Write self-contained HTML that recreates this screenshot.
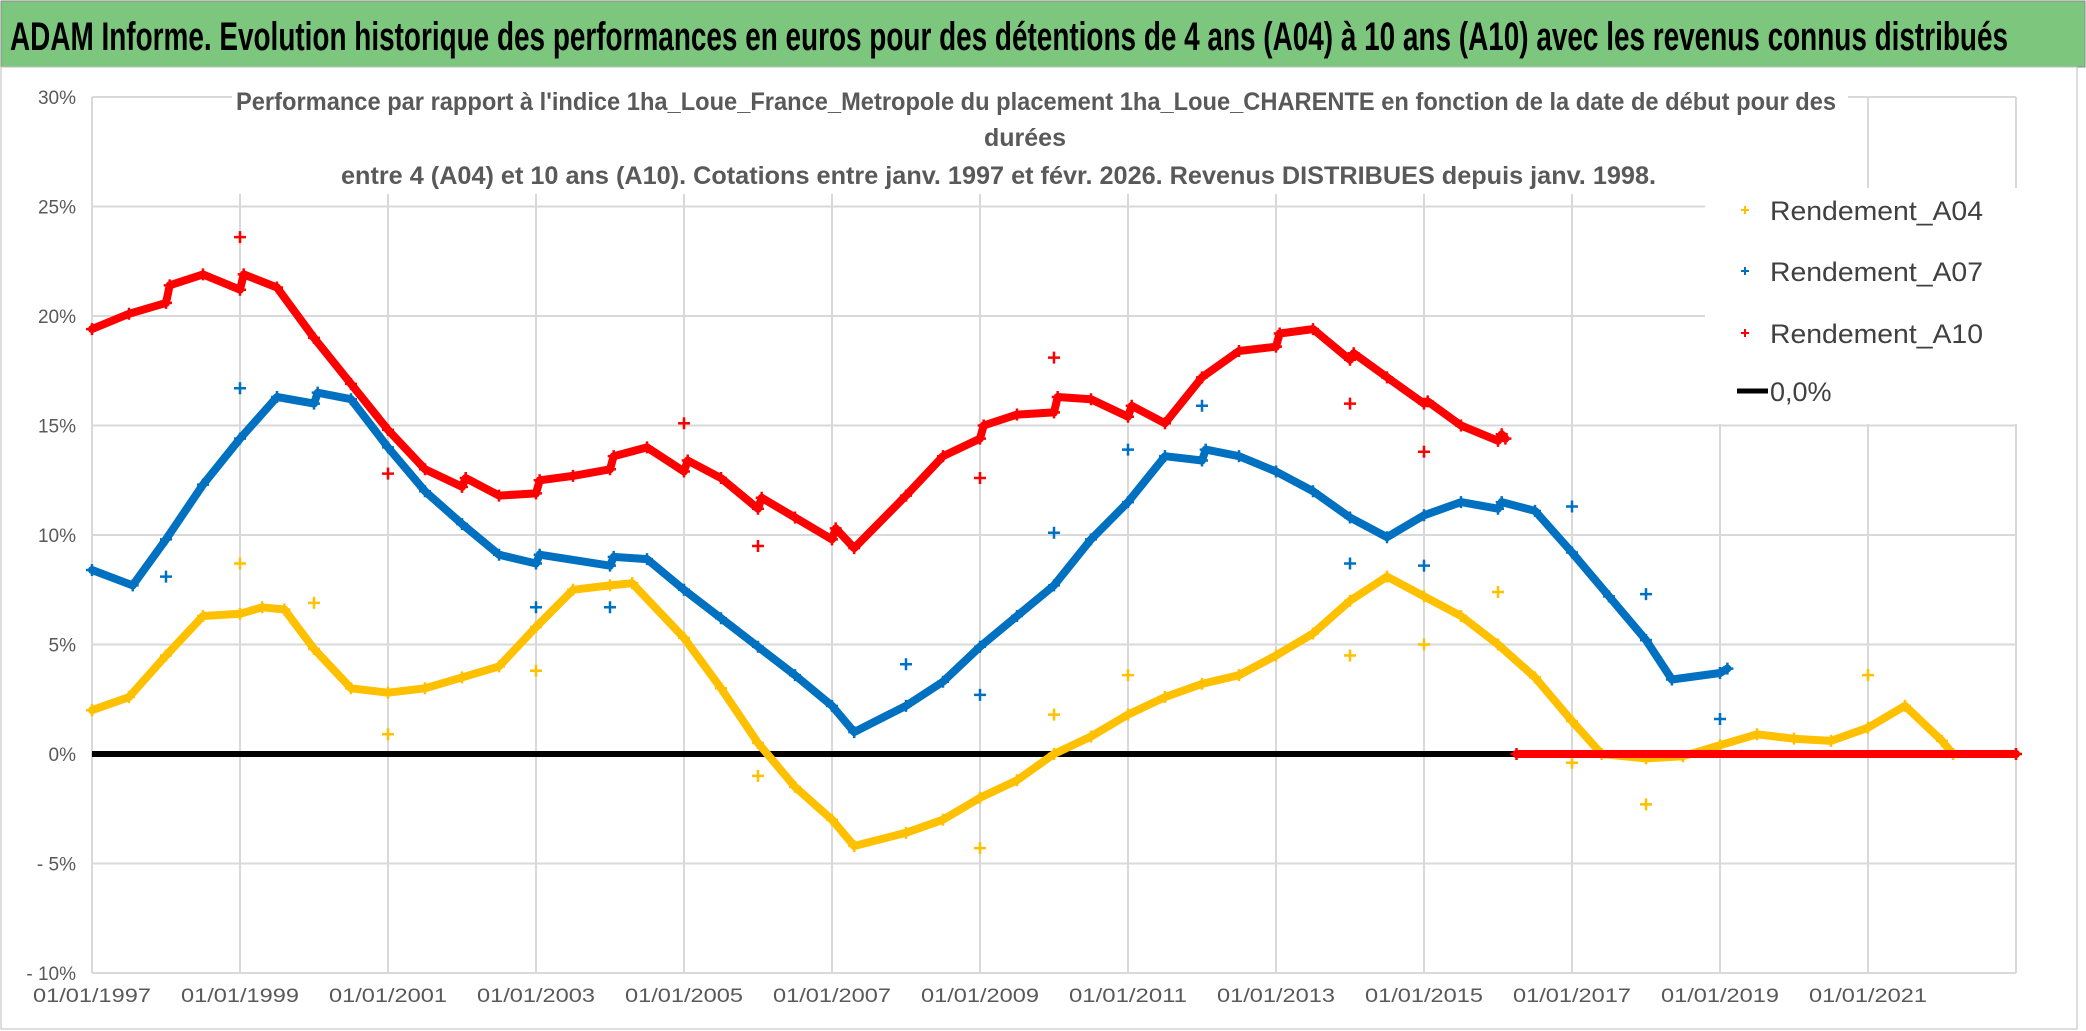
<!DOCTYPE html>
<html><head><meta charset="utf-8">
<style>
html,body{margin:0;padding:0;background:#fff;}
svg{display:block;font-family:"Liberation Sans",sans-serif;}
</style></head>
<body>
<svg id="chart" width="2086" height="1031" viewBox="0 0 2086 1031">
<rect x="0" y="0" width="2086" height="1031" fill="#fff"/>
<rect x="1" y="1" width="2084" height="66" fill="#7dc67e" stroke="#8a8a8a" stroke-width="1"/>
<text x="10" y="50" font-size="40" font-weight="bold" fill="#000" textLength="1998" lengthAdjust="spacingAndGlyphs">ADAM Informe. Evolution historique des performances en euros pour des détentions de 4 ans (A04) à 10 ans (A10) avec les revenus connus distribués</text>
<rect x="1" y="67" width="2076" height="962" fill="none" stroke="#bdbdbd" stroke-width="1"/>
<g id="grid"></g>
<g id="axes"></g>
<rect x="232" y="84" width="1616" height="110" fill="#fff"/>
<g fill="#595959" font-size="25" font-weight="bold">
<text x="236" y="110" textLength="1600" lengthAdjust="spacingAndGlyphs">Performance par rapport à l'indice 1ha_Loue_France_Metropole  du placement 1ha_Loue_CHARENTE en fonction de la date de début pour des</text>
<text x="1025" y="146" text-anchor="middle">durées</text>
<text x="341" y="184" textLength="1315" lengthAdjust="spacingAndGlyphs">entre 4 (A04) et 10 ans (A10). Cotations entre janv. 1997 et févr. 2026. Revenus DISTRIBUES depuis janv. 1998.</text>
</g>
<rect x="1705" y="188" width="312" height="236" fill="#fff"/>
<g id="series"></g>
<g id="legend"></g>
</svg>
<script>
// ---- data ----
const yTicks = [30,25,20,15,10,5,0,-5,-10];
const yTickLabels = ["30%","25%","20%","15%","10%","5%","0%","- 5%","- 10%"];
const xTickYears = [1997,1999,2001,2003,2005,2007,2009,2011,2013,2015,2017,2019,2021];
const xTickLabels = ["01/01/1997","01/01/1999","01/01/2001","01/01/2003","01/01/2005","01/01/2007","01/01/2009","01/01/2011","01/01/2013","01/01/2015","01/01/2017","01/01/2019","01/01/2021"];
const gridYears = [1997,1999,2001,2003,2005,2007,2009,2011,2013,2015,2017,2019,2021,2023];

const a04Dates = [1997,1997.5,1998,1998.5,1999,1999.3,1999.6,2000,2000.5,2001,2001.5,2002,2002.5,2003,2003.5,2004,2004.3,2005,2005.5,2006,2006.5,2007,2007.3,2008,2008.5,2009,2009.5,2010,2010.5,2011,2011.5,2012,2012.5,2013,2013.5,2014,2014.5,2015,2015.5,2016,2016.5,2017,2017.4,2018,2018.5,2019,2019.5,2020,2020.5,2021,2021.5,2022,2022.15,2023];
const a04Values = [2.0,2.6,4.5,6.3,6.4,6.7,6.6,4.8,3.0,2.8,3.0,3.5,4.0,5.8,7.5,7.7,7.8,5.3,3.0,0.5,-1.5,-3.0,-4.2,-3.6,-3.0,-2.0,-1.2,0.0,0.8,1.8,2.6,3.2,3.6,4.5,5.5,7.0,8.1,7.2,6.3,5.0,3.5,1.5,0.0,-0.2,-0.1,0.4,0.9,0.7,0.6,1.2,2.2,0.6,0.0,0.0];
const a04OutDates = [1999,2000,2001,2003,2006,2009,2010,2011,2014,2015,2016,2017,2018,2021];
const a04OutValues = [8.7,6.9,0.9,3.8,-1.0,-4.3,1.8,3.6,4.5,5.0,7.4,-0.4,-2.3,3.6];

const a07Dates = [1997,1997.55,1998,1998.5,1999,1999.5,2000,2000.05,2000.5,2001,2001.5,2002,2002.5,2003,2003.05,2004,2004.05,2004.5,2005,2005.5,2006,2006.5,2007,2007.3,2008,2008.5,2009,2009.5,2010,2010.5,2011,2011.5,2012,2012.05,2012.5,2013,2013.5,2014,2014.5,2015,2015.5,2016,2016.05,2016.5,2017,2017.5,2018,2018.35,2019,2019.1];
const a07Values = [8.4,7.7,9.8,12.3,14.4,16.3,16.0,16.5,16.2,14.0,12.0,10.5,9.1,8.7,9.1,8.6,9.0,8.9,7.5,6.2,4.9,3.6,2.2,1.0,2.2,3.3,4.9,6.3,7.7,9.8,11.5,13.6,13.4,13.9,13.6,12.9,12.0,10.8,9.9,10.9,11.5,11.2,11.5,11.1,9.2,7.2,5.2,3.4,3.7,3.9];
const a07OutDates = [1998,1999,2003,2004,2008,2009,2010,2011,2012,2014,2015,2017,2018,2019];
const a07OutValues = [8.1,16.7,6.7,6.7,4.1,2.7,10.1,13.9,15.9,8.7,8.6,11.3,7.3,1.6];

const a10Dates = [1997,1997.5,1998,1998.05,1998.5,1999,1999.05,1999.5,2000,2000.5,2001,2001.5,2002,2002.05,2002.5,2003,2003.05,2003.5,2004,2004.05,2004.5,2005,2005.05,2005.5,2006,2006.05,2006.5,2007,2007.05,2007.3,2008,2008.5,2009,2009.05,2009.5,2010,2010.05,2010.5,2011,2011.05,2011.5,2012,2012.5,2013,2013.05,2013.5,2014,2014.05,2014.5,2015,2015.05,2015.5,2016,2016.05,2016.1];
const a10Values = [19.4,20.1,20.6,21.4,21.9,21.2,21.9,21.3,19.0,16.9,14.8,13.0,12.2,12.6,11.8,11.9,12.5,12.7,13.0,13.6,14.0,12.9,13.4,12.6,11.2,11.7,10.8,9.8,10.3,9.4,11.8,13.6,14.4,15.0,15.5,15.6,16.3,16.2,15.4,15.9,15.1,17.2,18.4,18.6,19.2,19.4,18.0,18.3,17.2,16.0,16.1,15.0,14.3,14.6,14.4];
const a10ZeroDates = [2016.25,2023];
const a10ZeroValues = [0,0];
const a10OutDates = [1999,2001,2005,2006,2009,2010,2014,2015];
const a10OutValues = [23.6,12.8,15.1,9.5,12.6,18.1,16.0,13.8];

const refDates = [1997,2016.25];
const refValues = [0,0];

// ---- scales ----
const X0 = 92, PX_PER_YEAR = 74, Y0 = 754, PX_PER_PCT = 21.9;
function xs(yr){ return X0 + (yr-1997)*PX_PER_YEAR; }
function ys(v){ return Y0 - v*PX_PER_PCT; }
const NS = "http://www.w3.org/2000/svg";
function mk(tag, attrs, parent){
  const e = document.createElementNS(NS, tag);
  for (const k in attrs) e.setAttribute(k, attrs[k]);
  parent.appendChild(e); return e;
}
const grid = document.getElementById('grid');
const axes = document.getElementById('axes');
const series = document.getElementById('series');
const legend = document.getElementById('legend');
const XR = xs(2023);

yTicks.forEach((v,i)=>{
  const l = mk('line',{x1:X0,x2:XR,y1:ys(v),y2:ys(v),stroke:'#d9d9d9','stroke-width':2},grid);
  
  
  const t = mk('text',{x:76,y:ys(v)+7,'text-anchor':'end','font-size':19,fill:'#595959'},axes);
  t.textContent = yTickLabels[i];
  
  
});
gridYears.forEach(yr=>{
  const l = mk('line',{x1:xs(yr),x2:xs(yr),y1:ys(30),y2:ys(-10),stroke:'#d9d9d9','stroke-width':2},grid);
  
  
});
xTickYears.forEach((yr,i)=>{
  const t = mk('text',{x:xs(yr),y:1002,'text-anchor':'middle','font-size':19,fill:'#595959',textLength:118,lengthAdjust:'spacingAndGlyphs'},axes);
  t.textContent = xTickLabels[i];
  
  
});

function plus(g,x,y,c,s,w){
  mk('path',{d:`M${x-s},${y}H${x+s}M${x},${y-s}V${y+s}`,stroke:c,'stroke-width':w},g);
}
function drawLine(dates, vals, color, name, width){
  const g = mk('g',{},series);
  
  
  const pts = dates.map((d,i)=>xs(d).toFixed(1)+','+ys(vals[i]).toFixed(1)).join(' ');
  mk('polyline',{points:pts,fill:'none',stroke:color,'stroke-width':width,'stroke-linejoin':'round','stroke-linecap':'round'},g);
  dates.forEach((d,i)=>plus(g,xs(d),ys(vals[i]),color,6,2.5));
}
function drawOut(dates, vals, color, name){
  const g = mk('g',{},series);
  
  
  dates.forEach((d,i)=>plus(g,xs(d),ys(vals[i]),color,6,2.5));
}
const YEL='#ffc000', BLU='#0070c0', RED='#ff0000';
const ref = mk('line',{x1:xs(refDates[0]),x2:xs(refDates[1]),y1:ys(refValues[0]),y2:ys(refValues[1]),stroke:'#000','stroke-width':6},series);


drawLine(a04Dates,a04Values,YEL,'series-a04',8);
drawOut(a04OutDates,a04OutValues,YEL,'series-a04-outliers');
drawLine(a07Dates,a07Values,BLU,'series-a07',8);
drawOut(a07OutDates,a07OutValues,BLU,'series-a07-outliers');
drawLine(a10Dates,a10Values,RED,'series-a10',8);
drawLine(a10ZeroDates,a10ZeroValues,RED,'series-a10-zero',8);
drawOut(a10OutDates,a10OutValues,RED,'series-a10-outliers');

const legNames = ["Rendement_A04","Rendement_A07","Rendement_A10"];
const legColors = [YEL,BLU,RED];
const legY = [210,271,333];
legNames.forEach((n,i)=>{
  const g = mk('g',{},legend);
  
  
  plus(g,1745,legY[i],legColors[i],4,2);
  const t = mk('text',{x:1770,y:legY[i]+10,'font-size':27,fill:'#404040',textLength:213,lengthAdjust:'spacingAndGlyphs'},g);
  t.textContent = n;
});
const g0 = mk('g',{},legend);


mk('line',{x1:1737,x2:1768,y1:391,y2:391,stroke:'#000','stroke-width':5},g0);
const t0 = mk('text',{x:1770,y:401,'font-size':27,fill:'#404040'},g0);
t0.textContent = '0,0%';
</script>
</body></html>
